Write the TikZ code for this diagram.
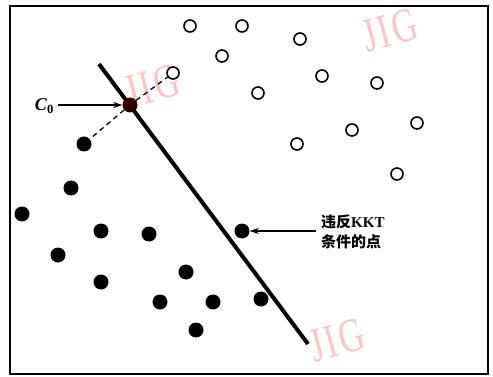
\documentclass[tikz,border=0pt]{standalone}
\usepackage{fontspec}
\setmainfont{Liberation Serif}
\newfontfamily\cjk{Noto Sans CJK SC}
\newfontfamily\wmfont{Liberation Serif}
\usetikzlibrary{arrows.meta}
\definecolor{wm}{RGB}{255,195,195}
\newcommand{\wmtext}{J\hspace{3pt}I\hspace{3pt}G}
\tikzset{
  fillpt/.style={circle, fill=black, minimum size=15pt, inner sep=0pt},
  negpt/.style={circle, draw=black, line width=1.6pt, fill=white, minimum size=12pt, inner sep=0pt},
  c0pt/.style={circle, fill=black!70!red!60!black, minimum size=15pt, inner sep=0pt},
  watermark/.style={text=wm, font=\wmfont\fontsize{48}{48}\selectfont, rotate=15, xscale=0.72, inner sep=0pt},
  lab/.style={inner sep=0pt, align=left},
  arr/.style={-{Stealth[length=9pt,width=6pt]}, line width=1.3pt},
}
\begin{document}
\begin{tikzpicture}[x=1pt,y=-1pt]
\useasboundingbox (0,0) rectangle (493,377);
\fill[white] (0,0) rectangle (493,377);
% watermarks
\node[watermark] (w1) at (390,30) {\wmtext};
\node[watermark] (w2) at (152,86) {\wmtext};
\node[watermark] (w3) at (337,340) {\wmtext};
% frame
\draw[line width=1.6pt] (10,6) rectangle (488,374);
% separating line
\coordinate (la) at (99,64);
\coordinate (lb) at (308,344);
\draw[line width=4pt] (la) -- (lb);
% open circles
\node[negpt] (n1) at (190,26) {};
\node[negpt] (n2) at (242,26) {};
\node[negpt] (n3) at (300,39) {};
\node[negpt] (n4) at (222,56) {};
\node[negpt] (n5) at (173,73) {};
\node[negpt] (n6) at (322,76) {};
\node[negpt] (n7) at (377,83) {};
\node[negpt] (n8) at (258,93) {};
\node[negpt] (n9) at (352,130) {};
\node[negpt] (n10) at (417,123) {};
\node[negpt] (n11) at (297,144) {};
\node[negpt] (n12) at (397,174) {};
% filled points
\node[fillpt] (p1) at (84,144) {};
\node[fillpt] (p2) at (71,188) {};
\node[fillpt] (p3) at (22,214) {};
\node[fillpt] (p4) at (101,231) {};
\node[fillpt] (p5) at (149,234) {};
\node[fillpt] (p6) at (242,231) {};
\node[fillpt] (p7) at (58,255) {};
\node[fillpt] (p8) at (101,282) {};
\node[fillpt] (p9) at (186,272) {};
\node[fillpt] (p10) at (160,302) {};
\node[fillpt] (p11) at (213,302) {};
\node[fillpt] (p12) at (261,299) {};
\node[fillpt] (p13) at (196,330) {};
% C0
\node[c0pt] (c0) at (130,105) {};
\draw[line width=1.3pt, dash pattern=on 5pt off 4pt] (c0) -- (n5);
\draw[line width=1.3pt, dash pattern=on 5pt off 4pt] (c0) -- (p1);
% labels
\node[lab, anchor=east, font=\fontsize{18}{18}\selectfont\bfseries] (c0lab) at (54,106) {\textit{C}\textsubscript{0}};
\coordinate (c0s) at (58,105);
\draw[arr] (c0s) -- (c0.west);
\node[lab, anchor=west, font=\fontsize{15}{20}\selectfont\bfseries] (kkt) at (321,232) {{\cjk 违反}KKT\\{\cjk 条件的点}};
\coordinate (ks) at (316,231);
\draw[arr] (ks) -- (p6.east);
\end{tikzpicture}
\end{document}
